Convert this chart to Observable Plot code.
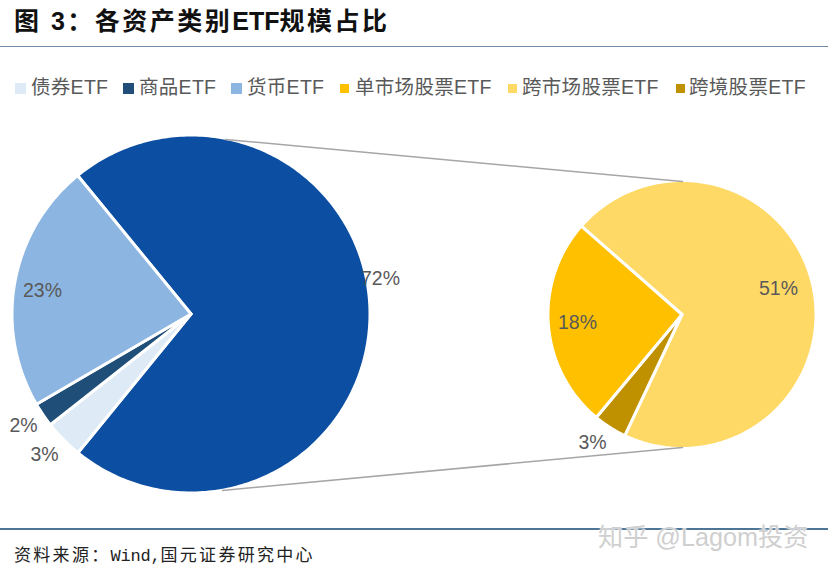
<!DOCTYPE html>
<html><head><meta charset="utf-8">
<script src="https://cdn.jsdelivr.net/npm/d3@7"></script>
<script src="https://cdn.jsdelivr.net/npm/@observablehq/plot@0.6"></script>
<style>
html,body{margin:0;padding:0;background:#fff;width:828px;height:572px;overflow:hidden;position:relative}
body{font-family:"Liberation Sans","Noto Sans CJK SC",sans-serif}
#title{position:absolute;left:14px;top:3px;font:bold 25px/36px "Liberation Sans","Noto Sans CJK SC";letter-spacing:2.5px;color:#111;white-space:pre}
#title span{letter-spacing:0}
.rule{position:absolute;left:0;width:828px;height:1.5px}
#legend{position:absolute;left:0;top:74px;height:26px;width:828px}
.li{position:absolute;top:0;font-size:19.5px;line-height:26px;letter-spacing:.3px;color:#595959;white-space:nowrap}
.sw{position:absolute;top:8px}
#chart{position:absolute;left:0;top:110px}
#source{position:absolute;left:14px;top:541px;font:17px/26px "Noto Sans CJK SC";letter-spacing:2.3px;color:#222;white-space:pre}
#source span{font-family:"Liberation Mono";letter-spacing:-.2px}
#mark{position:absolute;left:598px;top:519px;font:25.2px/36px "Liberation Sans","Noto Sans CJK SC";color:#cfcfcf;white-space:pre;text-shadow:0 0 2px #fff,0 0 2px #fff}
</style></head><body>
<div id="title">图 3：各资产类别<span>ETF</span>规模占比</div>
<div class="rule" style="top:45.5px;background:#6f8ba3"></div>
<div id="legend"></div>
<div id="chart"></div>
<div class="rule" style="top:528px;background:#4f7596"></div>
<div id="source">资料来源：<span>Wind,</span>国元证券研究中心</div>
<div id="mark">知乎 @Lagom投资</div>
<script>
// data
const mainNames = ["股票ETF合计", "债券ETF", "商品ETF", "货币ETF"];
const mainValues = [71.8, 3.5, 2.2, 22.5];
const mainLabels = ["72%", "3%", "2%", "23%"];
const subNames = ["跨市场股票ETF", "跨境股票ETF", "单市场股票ETF"];
const subValues = [50.8, 2.9, 18.3];
const subLabels = ["51%", "3%", "18%"];
const legendNames = ["债券ETF", "商品ETF", "货币ETF", "单市场股票ETF", "跨市场股票ETF", "跨境股票ETF"];
const colorNames = ["股票ETF合计", ...legendNames];
const colorValues = ["#0b4ea2", "#deeaf6", "#1f4e79", "#8cb5e1", "#ffc000", "#ffd966", "#bf9000"];

// layout
const legendSwatchX = [15, 123, 231, 340, 508, 676];
const legendSwatchS = [11, 11, 11, 9, 9, 9];
const legendTextX = [31, 139, 247, 355, 522, 689];
const mainPie = {cx: 190.5, cy: 313.5, r: 179, start: -39.3};
const subPie = {cx: 681.5, cy: 314, r: 134, start: -48.7};
const mainLabelPos = [[380, 278], [44, 454], [23, 425], [42, 290]];
const subLabelPos = [[778, 288], [592, 442], [577, 322]];
const seriesLines = [[[225, 139], [682, 181]], [[222, 490], [682, 447]]];

const legend = document.getElementById("legend");
legendNames.forEach((n, i) => {
  const s = document.createElement("div");
  s.className = "sw";
  const sz = legendSwatchS[i];
  s.style.cssText = `left:${legendSwatchX[i]}px;width:${sz}px;height:${sz}px;top:${13 - sz / 2 + 1}px;background:${colorValues[colorNames.indexOf(n)]}`;
  legend.appendChild(s);
  const t = document.createElement("div");
  t.className = "li";
  t.style.left = legendTextX[i] + "px";
  t.textContent = n;
  legend.appendChild(t);
});

function slices(pie, names, values) {
  const total = d3.sum(values);
  const rows = [];
  let a = pie.start;
  names.forEach((name, i) => {
    const sweep = values[i] / total * 360;
    rows.push({name, x: pie.cx, y: pie.cy});
    const n = Math.ceil(sweep);
    for (let k = 0; k <= n; k++) {
      const t = (a + sweep * k / n) * Math.PI / 180;
      rows.push({name, x: pie.cx + pie.r * Math.sin(t), y: pie.cy - pie.r * Math.cos(t)});
    }
    rows.push({name, x: pie.cx, y: pie.cy});
    a += sweep;
  });
  return rows;
}
const lineRows = seriesLines.flatMap((pts, i) => pts.map(([x, y]) => ({i, x, y})));
const labelRows = [
  ...mainLabels.map((label, i) => ({label, x: mainLabelPos[i][0], y: mainLabelPos[i][1]})),
  ...subLabels.map((label, i) => ({label, x: subLabelPos[i][0], y: subLabelPos[i][1]}))
];

const sliceOpts = {x: "x", y: "y", z: "name", fill: "name", stroke: "#fff", strokeWidth: 3, strokeLinejoin: "round", curve: "linear"};
const chart = Plot.plot({
  width: 828, height: 400,
  margin: 0,
  x: {domain: [0, 828], axis: null},
  y: {domain: [510, 110], axis: null},
  color: {domain: colorNames, range: colorValues},
  marks: [
    Plot.line(slices(mainPie, mainNames, mainValues), sliceOpts),
    Plot.line(slices(subPie, subNames, subValues), sliceOpts),
    Plot.line(lineRows, {x: "x", y: "y", z: "i", stroke: "#a6a6a6", strokeWidth: 1.5}),
    Plot.text(labelRows, {x: "x", y: "y", text: "label", fontSize: 19.5, fill: "#595959", fontFamily: "Liberation Sans"})
  ]
});
document.getElementById("chart").appendChild(chart);
</script>
</body></html>
